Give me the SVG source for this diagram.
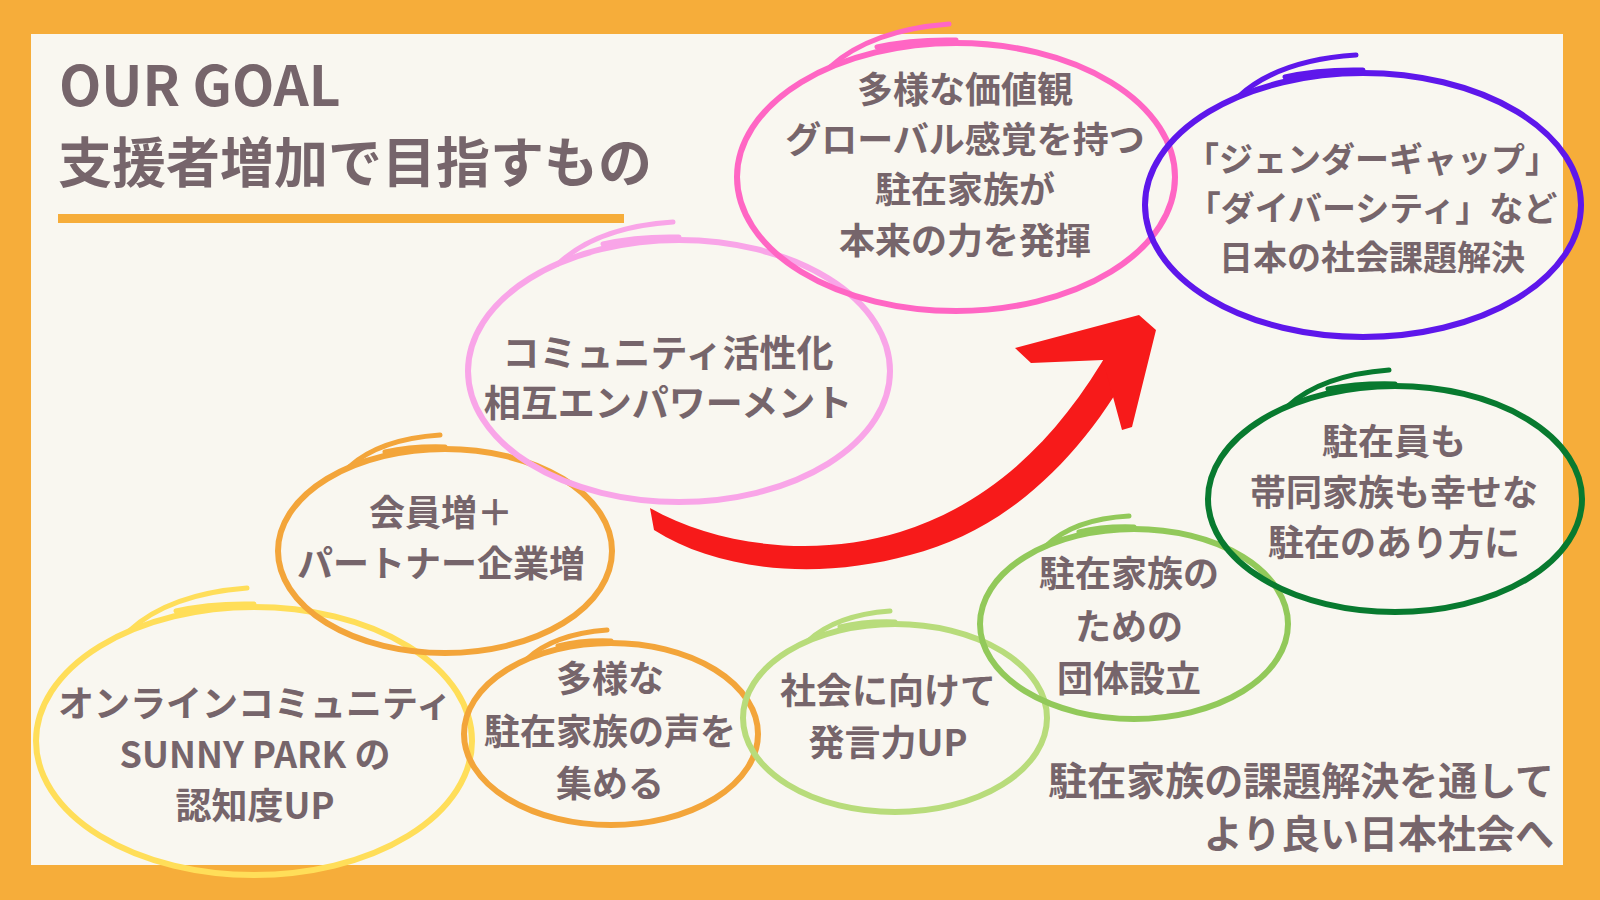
<svg xmlns="http://www.w3.org/2000/svg" width="1600" height="900" viewBox="0 0 1600 900">
<style>
.t{font-family:"Noto Sans CJK JP","Noto Sans",sans-serif;font-weight:700;fill:#76656b;text-anchor:middle}
.c{fill:none;stroke-width:6;stroke-linecap:round}
.tail{fill:none;stroke-width:5;stroke-linecap:round}
</style>
<rect x="0" y="0" width="1600" height="900" fill="#f6ad3a"/>
<rect x="31" y="34" width="1532" height="831" fill="#f9f7f0"/>
<g id="title">
<text class="t" x="59" y="106" font-size="55" style="text-anchor:start">OUR GOAL</text>
<text class="t" x="58" y="183" font-size="54" style="text-anchor:start">支援者増加で目指すもの</text>
<rect x="58" y="214" width="566" height="9" fill="#f6ad3a"/>
</g>
<g id="arrow" fill="#f71a1a">
<path d="M650,508 C720,548 820,557 900,532 C990,504 1058,440 1112,345 L1140,351 C1088,452 1010,530 910,555 C820,580 720,572 654,530 Z"/>
<path d="M1139,315 L1015,348 L1031,363 L1103,360 L1122,430 L1132,427 L1156,330 Z"/>
</g>
<g id="n-yellow">
<ellipse class="c" cx="254" cy="741" rx="218" ry="134" stroke="#ffde59"/>
<path class="tail" d="M129,631 Q169,594 247,588 M176,611 Q210,603 254,604" stroke="#ffde59"/>
<text class="t" font-size="36" x="255" y="717">オンラインコミュニティ</text>
<text class="t" font-size="36" x="255" y="768">SUNNY PARK の</text>
<text class="t" font-size="36" x="255" y="819">認知度UP</text>
</g>
<g id="n-member">
<ellipse class="c" cx="445" cy="551" rx="167" ry="102" stroke="#f3a53a"/>
<path class="tail" d="M349,467 Q380,439 440,435 M385,452 Q412,446 445,447" stroke="#f3a53a"/>
<text class="t" font-size="36" x="441" y="526">会員増＋</text>
<text class="t" font-size="36" x="441" y="577">パートナー企業増</text>
</g>
<g id="n-voice">
<ellipse class="c" cx="611" cy="734" rx="147" ry="91" stroke="#f3a53a"/>
<path class="tail" d="M527,659 Q554,634 607,630 M558,646 Q582,640 611,641" stroke="#f3a53a"/>
<text class="t" font-size="36" x="610" y="692">多様な</text>
<text class="t" font-size="36" x="610" y="745">駐在家族の声を</text>
<text class="t" font-size="36" x="610" y="797">集める</text>
</g>
<g id="n-community">
<ellipse class="c" cx="679" cy="371" rx="211" ry="131" stroke="#f9a5e8"/>
<path class="tail" d="M558,264 Q597,227 673,222 M603,244 Q637,236 679,237" stroke="#f9a5e8"/>
<text class="t" font-size="37" x="668" y="367">コミュニティ活性化</text>
<text class="t" font-size="37" x="668" y="417">相互エンパワーメント</text>
</g>
<g id="n-values">
<ellipse class="c" cx="956" cy="177" rx="219" ry="134" stroke="#ff66c4"/>
<path class="tail" d="M830,67 Q871,30 949,24 M877,47 Q912,39 956,40" stroke="#ff66c4"/>
<text class="t" font-size="36" x="965" y="103">多様な価値観</text>
<text class="t" font-size="36" x="965" y="153">グローバル感覚を持つ</text>
<text class="t" font-size="36" x="965" y="203">駐在家族が</text>
<text class="t" font-size="36" x="965" y="254">本来の力を発揮</text>
</g>
<g id="n-social">
<ellipse class="c" cx="1363" cy="205" rx="218" ry="132" stroke="#5e17eb"/>
<path class="tail" d="M1238,97 Q1278,60 1356,55 M1285,77 Q1319,69 1363,70" stroke="#5e17eb"/>
<text class="t" font-size="34" x="1372" y="172">「ジェンダーギャップ」</text>
<text class="t" font-size="34" x="1372" y="221">「ダイバーシティ」など</text>
<text class="t" font-size="34" x="1372" y="270">日本の社会課題解決</text>
</g>
<g id="n-speak">
<ellipse class="c" cx="895" cy="718" rx="152" ry="94" stroke="#b8dc7b"/>
<path class="tail" d="M808,641 Q836,615 890,611 M840,627 Q865,621 895,622" stroke="#b8dc7b"/>
<text class="t" font-size="36" x="888" y="704">社会に向けて</text>
<text class="t" font-size="36" x="888" y="756">発言力UP</text>
</g>
<g id="n-org">
<ellipse class="c" cx="1134" cy="624" rx="154" ry="95" stroke="#92c95a"/>
<path class="tail" d="M1046,546 Q1074,519 1129,516 M1079,532 Q1103,526 1134,527" stroke="#92c95a"/>
<text class="t" font-size="36" x="1129" y="587">駐在家族の</text>
<text class="t" font-size="36" x="1129" y="640">ための</text>
<text class="t" font-size="36" x="1129" y="692">団体設立</text>
</g>
<g id="n-happy">
<ellipse class="c" cx="1395" cy="499" rx="187" ry="113" stroke="#087a2f"/>
<path class="tail" d="M1288,406 Q1322,375 1389,370 M1328,389 Q1358,383 1395,384" stroke="#087a2f"/>
<text class="t" font-size="36" x="1394" y="455">駐在員も</text>
<text class="t" font-size="36" x="1394" y="506">帯同家族も幸せな</text>
<text class="t" font-size="36" x="1394" y="556">駐在のあり方に</text>
</g>
<g id="footer">
<text class="t" font-size="39" x="1554" y="795" style="text-anchor:end">駐在家族の課題解決を通して</text>
<text class="t" font-size="39" x="1554" y="848" style="text-anchor:end">より良い日本社会へ</text>
</g>
</svg>
